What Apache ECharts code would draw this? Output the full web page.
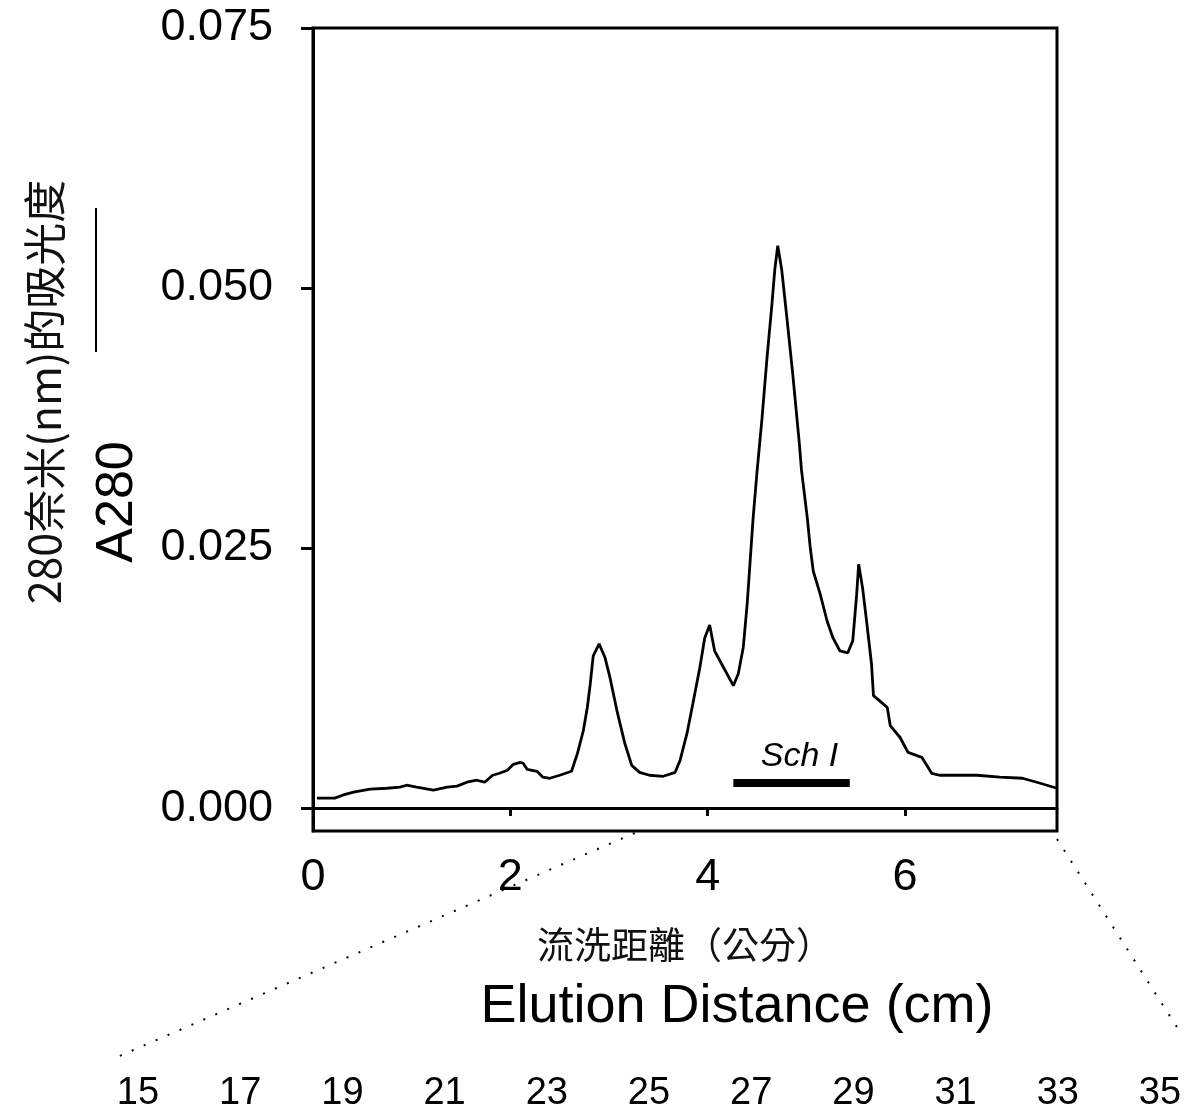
<!DOCTYPE html>
<html><head><meta charset="utf-8">
<script src="https://cdn.jsdelivr.net/npm/echarts@6/dist/echarts.min.js"></script>
<style>html,body{margin:0;padding:0;background:#fff}#c{width:1189px;height:1119px}</style>
</head><body><div id="c"></div>
<script>
// Elution distance (cm)
const distance = [0.04,0.22,0.30,0.41,0.58,0.75,0.88,0.95,1.05,1.22,1.36,1.46,1.56,1.66,1.74,1.82,1.89,1.97,2.03,2.10,2.13,2.17,2.27,2.33,2.40,2.50,2.62,2.68,2.74,2.78,2.81,2.84,2.90,2.96,3.01,3.08,3.16,3.23,3.31,3.41,3.55,3.67,3.72,3.79,3.85,3.92,3.97,4.02,4.07,4.14,4.26,4.31,4.36,4.40,4.43,4.46,4.50,4.55,4.60,4.65,4.68,4.71,4.75,4.80,4.86,4.93,4.95,5.01,5.04,5.07,5.14,5.21,5.27,5.34,5.42,5.47,5.51,5.53,5.57,5.61,5.66,5.68,5.74,5.82,5.85,5.95,6.03,6.17,6.27,6.35,6.73,6.96,7.19,7.37,7.54];
// A280 absorbance
const absorbance = [0.00096,0.00096,0.00124,0.00153,0.00182,0.00191,0.00201,0.00220,0.00201,0.00172,0.00201,0.00211,0.00249,0.00268,0.00249,0.00316,0.00335,0.00364,0.00421,0.00440,0.00431,0.00373,0.00354,0.00297,0.00287,0.00316,0.00354,0.00526,0.00746,0.00967,0.01196,0.01464,0.01579,0.01445,0.01254,0.00938,0.00622,0.00411,0.00344,0.00316,0.00306,0.00344,0.00459,0.00718,0.01005,0.01349,0.01636,0.01761,0.01512,0.01388,0.01177,0.01292,0.01541,0.01962,0.02373,0.02785,0.03234,0.03742,0.04316,0.04833,0.05177,0.05407,0.05177,0.04737,0.04191,0.03493,0.03254,0.02785,0.02498,0.02278,0.02057,0.01799,0.01636,0.01512,0.01493,0.01608,0.02057,0.02344,0.02115,0.01799,0.01388,0.01081,0.01033,0.00967,0.00794,0.00679,0.00536,0.00488,0.00335,0.00316,0.00316,0.00297,0.00287,0.00239,0.00191];
const yTicks = [0, 0.025, 0.05, 0.075];
const xTicks = [0, 2, 4, 6];
const fractionTicks = [15, 17, 19, 21, 23, 25, 27, 29, 31, 33, 35];
const schBarX = [4.26, 5.44];
const schBarY = 0.0024;
const schLabel = 'Sch I';
const xNameZh = '流洗距離（公分）';
const xNameEn = 'Elution Distance (cm)';
const yNameZh = '280奈米(nm)的吸光度';
const yNameEn = 'A280';
const zoomFrom = 3.26; // start of dotted expansion line on main axis

const FONT = "'Liberation Sans', Arial, sans-serif";
const CJK = "'Noto Sans CJK TC', 'Noto Sans CJK SC', sans-serif";

const chart = echarts.init(document.getElementById('c'), null, {renderer: 'canvas'});
const option = {
  animation: false,
  backgroundColor: '#fff',
  grid: [
    {left: 313, right: 132, top: 28, bottom: 288, show: true, borderColor: '#000', borderWidth: 3, backgroundColor: 'transparent'},
    {left: 138, right: 29, top: 1066, height: 1}
  ],
  xAxis: [
    {
      type: 'value', gridIndex: 0, min: 0, max: 7.54,
      axisLine: {show: true, lineStyle: {color: '#000', width: 3}},
      axisTick: {show: true, length: 8, customValues: xTicks, lineStyle: {color: '#000', width: 3}},
      axisLabel: {customValues: xTicks, margin: 24, fontSize: 45, color: '#000', fontFamily: FONT},
      splitLine: {show: false},
      name: '{zh|' + xNameZh + '}\n{en|' + xNameEn + '}',
      nameLocation: 'middle', nameGap: 88,
      nameTextStyle: {
        color: '#000',
        rich: {
          zh: {fontSize: 37, fontFamily: CJK, lineHeight: 52, color: '#111'},
          en: {fontSize: 54, fontFamily: FONT, lineHeight: 72, color: '#000', padding: [0, 0, 0, 104]}
        }
      }
    },
    {
      type: 'value', gridIndex: 1, min: 15, max: 35,
      axisLine: {show: false}, axisTick: {show: false}, splitLine: {show: false},
      axisLabel: {customValues: fractionTicks, margin: 8, fontSize: 38, color: '#000', fontFamily: FONT}
    }
  ],
  yAxis: [
    {
      type: 'value', gridIndex: 0, min: -0.0022, max: 0.075,
      axisLine: {show: true, lineStyle: {color: '#000', width: 3}},
      axisTick: {show: true, length: 12, customValues: yTicks, lineStyle: {color: '#000', width: 3}},
      axisLabel: {customValues: yTicks, margin: 40, fontSize: 45, color: '#000', fontFamily: FONT,
        formatter: v => v.toFixed(3)},
      splitLine: {show: false}
    },
    {type: 'value', gridIndex: 1, show: false, min: 0, max: 1}
  ],
  series: [{
    type: 'line', xAxisIndex: 0, yAxisIndex: 0,
    data: distance.map((d, i) => [d, absorbance[i]]),
    symbol: 'none', smooth: false,
    lineStyle: {color: '#000', width: 2.8},
    markLine: {
      silent: true, symbol: 'none',
      data: [[{coord: [schBarX[0], schBarY]}, {coord: [schBarX[1], schBarY]}]],
      lineStyle: {color: '#000', width: 8, type: 'solid'},
      label: {show: true, position: 'middle', formatter: schLabel, distance: 10,
        fontSize: 34, fontStyle: 'italic', color: '#000', fontFamily: FONT, padding: [0, 0, 0, 16]}
    }
  }]
};
chart.setOption(option);

const pA = chart.convertToPixel({xAxisIndex: 0, yAxisIndex: 0}, [zoomFrom, -0.0022]);
const pB = chart.convertToPixel({xAxisIndex: 1, yAxisIndex: 1}, [15, 1]);
const pC = chart.convertToPixel({xAxisIndex: 0, yAxisIndex: 0}, [7.54, -0.0022]);
const pD = chart.convertToPixel({xAxisIndex: 1, yAxisIndex: 1}, [35, 1]);
const dot = {stroke: '#000', lineWidth: 2, lineDash: [2, 11], fill: null};
chart.setOption({
  graphic: [
    {type: 'line', shape: {x1: pA[0], y1: pA[1] + 2, x2: pB[0] - 23, y2: pB[1] - 8}, style: dot},
    {type: 'line', shape: {x1: pC[0], y1: pC[1] + 8, x2: pD[0] + 20, y2: pD[1] - 34}, style: dot},
    {type: 'text', x: 45, y: 392, rotation: Math.PI / 2, style: {text: yNameZh, font: '43px ' + CJK, fill: '#111', align: 'center', verticalAlign: 'middle'}},
    {type: 'line', shape: {x1: 96, y1: 208, x2: 96, y2: 352}, style: {stroke: '#000', lineWidth: 2}},
    {type: 'text', x: 118, y: 502, rotation: Math.PI / 2, style: {text: yNameEn, font: '52px ' + FONT, fill: '#000', align: 'center', verticalAlign: 'middle'}}
  ]
});
</script>
</body></html>
